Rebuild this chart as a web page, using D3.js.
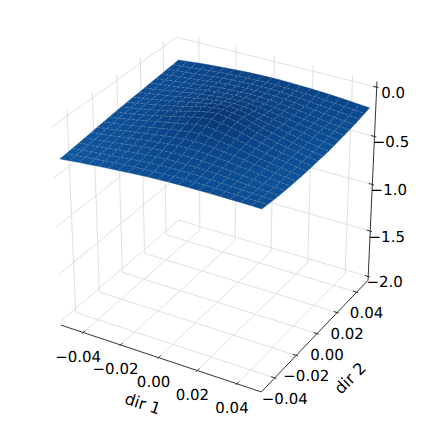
<!DOCTYPE html>
<html>
<head>
<meta charset="utf-8">
<script src="https://cdn.jsdelivr.net/npm/d3@7"></script>
<style>
  html, body { margin: 0; padding: 0; background: #fff; }
  text { font-family: "DejaVu Sans", sans-serif; font-size: 15px; fill: #000; text-rendering: geometricPrecision; }
  .axis-title { font-size: 16px; }
</style>
</head>
<body>
<svg id="viz" width="424" height="424"></svg>
<script>
var xTicks = [-0.04, -0.02, 0, 0.02, 0.04]
var yTicks = [-0.04, -0.02, 0, 0.02, 0.04]
var zTicks = [0, -0.5, -1, -1.5, -2]
var xTickLabels = ["\u22120.04", "\u22120.02", "0.00", "0.02", "0.04"]
var yTickLabels = ["\u22120.04", "\u22120.02", "0.00", "0.02", "0.04"]
var zTickLabels = ["0.0", "\u22120.5", "\u22121.0", "\u22121.5", "\u22122.0"]

//grid of the surface, both directions
var gridDir = [-0.05, -0.045, -0.04, -0.035, -0.03, -0.025, -0.02, -0.015, -0.01, -0.005, 0,
  0.005, 0.01, 0.015, 0.02, 0.025, 0.03, 0.035, 0.04, 0.045, 0.05]

//surface height, one row per dir 2 value
var zRows = [
  [-.320,-.310,-.300,-.292,-.283,-.275,-.267,-.260,-.253,-.247,-.243,-.239,-.237,-.236,-.235,-.235,-.235,-.236,-.236,-.238,-.240],
  [-.315,-.305,-.296,-.287,-.278,-.269,-.261,-.254,-.248,-.243,-.238,-.236,-.235,-.234,-.234,-.236,-.239,-.241,-.243,-.245,-.248],
  [-.308,-.299,-.290,-.281,-.271,-.262,-.252,-.243,-.236,-.230,-.227,-.224,-.226,-.227,-.230,-.235,-.239,-.244,-.248,-.251,-.255],
  [-.303,-.294,-.284,-.274,-.263,-.251,-.239,-.230,-.223,-.218,-.214,-.214,-.214,-.217,-.222,-.230,-.238,-.245,-.251,-.256,-.261],
  [-.296,-.287,-.276,-.265,-.252,-.238,-.226,-.216,-.207,-.202,-.198,-.199,-.201,-.207,-.214,-.223,-.234,-.243,-.252,-.259,-.265],
  [-.290,-.279,-.268,-.254,-.239,-.227,-.211,-.200,-.189,-.181,-.178,-.179,-.185,-.194,-.203,-.217,-.226,-.239,-.251,-.260,-.268],
  [-.283,-.272,-.258,-.242,-.227,-.211,-.198,-.183,-.171,-.161,-.157,-.160,-.169,-.179,-.192,-.205,-.220,-.233,-.248,-.260,-.270],
  [-.277,-.264,-.250,-.233,-.217,-.200,-.182,-.165,-.150,-.136,-.130,-.135,-.149,-.164,-.180,-.197,-.213,-.229,-.245,-.259,-.271],
  [-.270,-.257,-.242,-.224,-.206,-.187,-.168,-.148,-.129,-.108,-.103,-.108,-.129,-.148,-.169,-.187,-.207,-.225,-.242,-.257,-.271],
  [-.264,-.250,-.233,-.217,-.198,-.176,-.155,-.131,-.105,-.089,-.079,-.090,-.106,-.133,-.157,-.179,-.202,-.221,-.238,-.256,-.270],
  [-.258,-.244,-.228,-.211,-.191,-.169,-.147,-.121,-.095,-.075,-.065,-.076,-.097,-.124,-.151,-.174,-.197,-.218,-.236,-.253,-.268],
  [-.253,-.239,-.222,-.206,-.187,-.165,-.144,-.120,-.095,-.080,-.070,-.081,-.097,-.124,-.150,-.172,-.195,-.216,-.234,-.252,-.267],
  [-.248,-.234,-.219,-.202,-.184,-.165,-.147,-.127,-.108,-.088,-.084,-.090,-.112,-.132,-.154,-.173,-.194,-.214,-.233,-.250,-.265],
  [-.244,-.231,-.216,-.200,-.184,-.167,-.150,-.134,-.119,-.106,-.102,-.108,-.123,-.139,-.157,-.176,-.194,-.212,-.230,-.246,-.261],
  [-.239,-.228,-.214,-.198,-.184,-.168,-.155,-.142,-.131,-.122,-.119,-.123,-.134,-.146,-.161,-.176,-.193,-.209,-.226,-.241,-.254],
  [-.234,-.224,-.213,-.199,-.185,-.174,-.158,-.149,-.139,-.132,-.131,-.134,-.141,-.153,-.164,-.180,-.193,-.209,-.224,-.236,-.248],
  [-.230,-.221,-.210,-.199,-.187,-.174,-.163,-.154,-.147,-.143,-.141,-.144,-.149,-.157,-.167,-.179,-.194,-.207,-.219,-.231,-.241],
  [-.226,-.216,-.207,-.198,-.187,-.176,-.165,-.157,-.152,-.149,-.148,-.150,-.153,-.160,-.168,-.180,-.191,-.203,-.213,-.223,-.233],
  [-.220,-.211,-.202,-.194,-.184,-.176,-.167,-.160,-.155,-.151,-.151,-.151,-.156,-.161,-.168,-.177,-.186,-.196,-.204,-.214,-.223],
  [-.216,-.206,-.197,-.189,-.180,-.172,-.166,-.160,-.157,-.154,-.153,-.154,-.156,-.160,-.165,-.171,-.178,-.186,-.194,-.203,-.212],
  [-.210,-.200,-.190,-.182,-.174,-.167,-.161,-.156,-.152,-.149,-.148,-.148,-.150,-.154,-.157,-.162,-.168,-.175,-.182,-.191,-.200]
]

var xLim = [-0.0521, 0.0521]
var yLim = [-0.0521, 0.0521]
var zLim = [-2.042, 0.058]

var xBox = d3.scaleLinear().domain(xLim).range([-0.5, 0.5])
var yBox = d3.scaleLinear().domain(yLim).range([-0.5, 0.5])
var zBox = d3.scaleLinear().domain(zLim).range([-0.5, 0.5])

//screen scales fitted on the box corners
var xScreen = d3.scaleLinear().domain([-0.6755, 0.6516]).range([61, 368])
var yScreen = d3.scaleLinear().domain([-0.5187, -0.3258]).range([325, 280.2])

var color = d3.scaleSequential(d3.interpolateBlues).domain([-2, 0])

function cellColor(z) {
  return d3.color(color(z)).darker(0.06).formatHex()
}

//view of elev 30, azim -60, fitted eye distance
var eye = 8.5

function depth(x, y, z) {
  return 0.433 * xBox(x) - 0.75 * yBox(y) + 0.5 * zBox(z)
}

function project(x, y, z) {
  var X = xBox(x), Y = yBox(y), Z = zBox(z)
  var u = 0.866 * X + 0.5 * Y
  var v = -0.25 * X + 0.433 * Y + 0.866 * Z
  var f = eye / (eye - depth(x, y, z))
  return [xScreen(u * f), yScreen(v * f)]
}

var svg = d3.select("#viz")
var line = d3.line()

function path3d(g, pts, stroke, width) {
  return g.append("path")
    .attr("d", line(pts.map(function (p) { return project(p[0], p[1], p[2]) })))
    .attr("fill", "none")
    .attr("stroke", stroke)
    .attr("stroke-width", width)
}

//grid on the floor and the two walls
var grid = svg.append("g")
var gridColor = "#e0e0e0"
xTicks.forEach(function (x) {
  path3d(grid, [[x, yLim[0], zLim[0]], [x, yLim[1], zLim[0]], [x, yLim[1], zLim[1]]], gridColor, 1)
})
yTicks.forEach(function (y) {
  path3d(grid, [[xLim[1], y, zLim[0]], [xLim[0], y, zLim[0]], [xLim[0], y, zLim[1]]], gridColor, 1)
})
zTicks.forEach(function (z) {
  path3d(grid, [[xLim[0], yLim[0], z], [xLim[0], yLim[1], z], [xLim[1], yLim[1], z]], gridColor, 1)
})

//axis lines
var axes = svg.append("g")
var axisColor = "#333"
path3d(axes, [[xLim[0], yLim[0], zLim[0]], [xLim[1], yLim[0], zLim[0]]], axisColor, 1)
path3d(axes, [[xLim[1], yLim[0], zLim[0]], [xLim[1], yLim[1], zLim[0]]], axisColor, 1)
path3d(axes, [[xLim[1], yLim[1], zLim[0]], [xLim[1], yLim[1], zLim[1]]], axisColor, 1)

//ticks, straddling the axis
var dy = 0.0009, dx = 0.0009
xTicks.forEach(function (x) {
  path3d(axes, [[x, yLim[0] - dy, zLim[0]], [x, yLim[0] + 2 * dy, zLim[0]]], axisColor, 1)
})
yTicks.forEach(function (y) {
  path3d(axes, [[xLim[1] + dx, y, zLim[0]], [xLim[1] - 2 * dx, y, zLim[0]]], axisColor, 1)
})
zTicks.forEach(function (z) {
  path3d(axes, [[xLim[1] + dx, yLim[1], z], [xLim[1] - 2 * dx, yLim[1], z]], axisColor, 1)
})

//surface, far cells first
var cells = []
for (var i = 0; i < zRows.length - 1; i++) {
  for (var j = 0; j < gridDir.length - 1; j++) {
    var corners = [
      [gridDir[j], gridDir[i], zRows[i][j]],
      [gridDir[j + 1], gridDir[i], zRows[i][j + 1]],
      [gridDir[j + 1], gridDir[i + 1], zRows[i + 1][j + 1]],
      [gridDir[j], gridDir[i + 1], zRows[i + 1][j]]
    ]
    cells.push({
      corners: corners,
      z: d3.mean(corners, function (c) { return c[2] }),
      d: d3.mean(corners, function (c) { return depth(c[0], c[1], c[2]) })
    })
  }
}
cells.sort(function (a, b) { return a.d - b.d })

svg.append("g").selectAll("path")
  .data(cells)
  .enter()
  .append("path")
  .attr("d", function (d) {
    return line(d.corners.map(function (c) { return project(c[0], c[1], c[2]) })) + "Z"
  })
  .attr("fill", function (d) { return cellColor(d.z) })
  .attr("stroke", function (d) { return cellColor(d.z) })
  .attr("stroke-width", 0.4)

//seams between the cells
var seams = svg.append("g").attr("stroke-dasharray", "2.5,2").attr("opacity", 0.45)
zRows.slice(1, -1).forEach(function (row, i) {
  var pts = row.map(function (z, j) { return [gridDir[j], gridDir[i + 1], z] })
  path3d(seams, pts, "#c0c0c0", 0.7)
})
gridDir.slice(1, -1).forEach(function (x, j) {
  var pts = zRows.map(function (row, i) { return [x, gridDir[i], row[j + 1]] })
  path3d(seams, pts, "#c0c0c0", 0.7)
})

//tick labels
var labels = svg.append("g").attr("text-anchor", "middle")
function tickLabel(pos, text, ox, oy) {
  labels.append("text")
    .attr("x", pos[0] + ox)
    .attr("y", pos[1] + oy)
    .text(text)
}
xTicks.forEach(function (x, i) {
  tickLabel(project(x, yLim[0], zLim[0]), xTickLabels[i], -5, 29.5)
})
yTicks.forEach(function (y, i) {
  tickLabel(project(xLim[1], y, zLim[0]), yTickLabels[i], 10, 26)
})
zTicks.forEach(function (z, i) {
  tickLabel(project(xLim[1], yLim[1], z), zTickLabels[i], 16.5, 10.5)
})

labels.append("text")
  .attr("class", "axis-title")
  .attr("transform", "translate(141,409) rotate(18)")
  .text("dir 1")
labels.append("text")
  .attr("class", "axis-title")
  .attr("transform", "translate(354,382) rotate(-45)")
  .text("dir 2")
</script>
</body>
</html>
